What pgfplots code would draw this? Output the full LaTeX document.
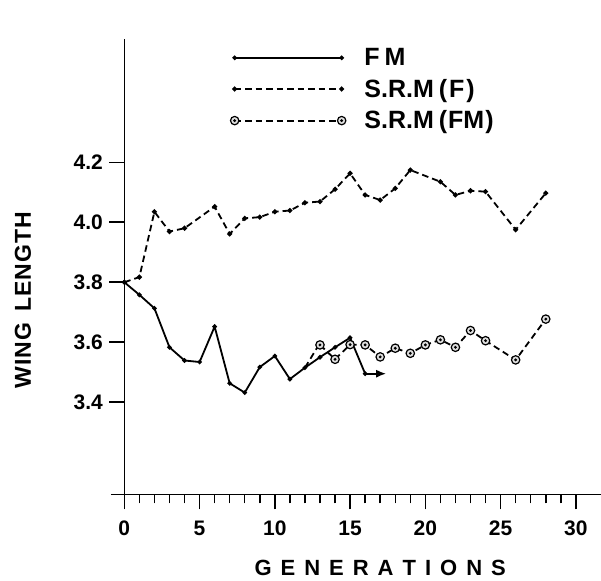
\documentclass[border=0pt]{standalone}
\usepackage{fontspec}
\setmainfont{Liberation Sans}
\usepackage{pgfplots}
\pgfplotsset{compat=1.18}
\usetikzlibrary{arrows.meta}
\pgfdeclareplotmark{circdot}{%
  \pgfpathcircle{\pgfpointorigin}{\pgfplotmarksize}\pgfusepathqfillstroke
  \begin{pgfscope}\pgfsetfillcolor{black}%
  \pgfpathcircle{\pgfpointorigin}{0.38\pgfplotmarksize}\pgfusepathqfill\end{pgfscope}}
\begin{document}
\begin{tikzpicture}
\begin{axis}[
  scale only axis, width=476.7pt, height=455pt,
  xmin=0, xmax=31.67, ymin=3.093, ymax=4.61,
  axis x line=bottom, axis y line=left,
  axis line style={line width=1.5pt, -},
  clip=false,
  xtick={0,5,...,30}, minor x tick num=4,
  ytick={3.4,3.6,3.8,4.0,4.2}, yticklabels={3.4,3.6,3.8,4.0,4.2},
  tick align=outside,
  major tick length=15pt, minor tick length=9pt,
  every tick/.style={line width=1.5pt, black},
  /pgf/number format/assume math mode=true,
  xticklabel style={font=\fontsize{21}{21}\selectfont\bfseries, yshift=-8pt},
  yticklabel style={font=\fontsize{21}{21}\selectfont\bfseries, xshift=-3pt},
  legend style={at={(axis cs:7.04,4.585)}, anchor=north west, draw=none, fill=none,
    inner sep=0pt, font=\fontsize{25}{27}\selectfont\bfseries,
    nodes={inner sep=1.5pt}, row sep=9pt,
    /tikz/every odd column/.append style={column sep=17pt}},
  legend cell align=left,
  legend image code/.code={\draw[#1, mark repeat=1] plot coordinates {(0pt,0pt) (107pt,0pt)};},
]
\addplot[line width=1.8pt, mark=*, mark size=1.3pt] coordinates {
 (0,3.800) (1,3.758) (2,3.713) (3,3.583) (4,3.539) (5,3.534) (6,3.652)
 (7,3.463) (8,3.432) (9,3.517) (10,3.554) (11,3.477) (12,3.515) (13,3.550)
 (14,3.583) (15,3.615) (16,3.495)};
\addlegendentry{F\hspace{5pt}M}
\addplot[line width=1.8pt, dash pattern=on 6.5pt off 4pt, mark=*, mark size=1.5pt,
  mark options={solid}] coordinates {
 (0,3.800) (1,3.817) (2,4.035) (3,3.969) (4,3.980) (6,4.052) (7,3.961)
 (8,4.013) (9,4.017) (10,4.035) (11,4.039) (12,4.065) (13,4.069) (14,4.110)
 (15,4.163) (16,4.091) (17,4.074) (18,4.113) (19,4.174) (21,4.135) (22,4.091)
 (23,4.105) (24,4.102) (26,3.975) (28,4.097)};
\addlegendentry{S.R.M\hspace{5pt}(\hspace{2pt}F\hspace{2pt})}
\addplot[line width=1.8pt, dash pattern=on 6.5pt off 4pt, mark=circdot, mark size=4.2pt,
  mark options={solid, fill=gray!25, draw=black, line width=1.2pt}] coordinates {
 (13,3.591) (14,3.543) (15,3.592) (16,3.591) (17,3.551) (18,3.580) (19,3.563)
 (20,3.591) (21,3.608) (22,3.583) (23,3.639) (24,3.605) (26,3.541) (28,3.677)};
\addlegendentry{S.R.M\hspace{5pt}(\hspace{1pt}FM\hspace{1pt})}
\addplot[line width=1.8pt, dash pattern=on 6.5pt off 4pt, forget plot] coordinates {
 (12,3.515) (12.85,3.585)};
\addplot[line width=1.8pt, -{Latex[length=10pt,width=8pt]}, forget plot] coordinates {
 (16,3.495) (17.4,3.495)};
\draw[line width=1.5pt] (axis cs:-0.9,3.093) -- (axis cs:0,3.093);
\node[font=\fontsize{22}{24}\selectfont\bfseries] at (axis cs:17.0,2.848)
  {G\hspace{9pt}E\hspace{9pt}N\hspace{9pt}E\hspace{9pt}R\hspace{9pt}A\hspace{9pt}T\hspace{9pt}I\hspace{9pt}O\hspace{9pt}N\hspace{9pt}S};
\node[font=\fontsize{23}{25}\selectfont\bfseries, rotate=90] at (axis cs:-6.73,3.74)
  {W\hspace{1pt}I\hspace{1pt}N\hspace{1pt}G\hspace{11pt}L\hspace{1pt}E\hspace{1pt}N\hspace{1pt}G\hspace{1pt}T\hspace{1pt}H};
\coordinate (BL) at (axis cs:-8.26,2.804);
\coordinate (TR) at (axis cs:31.67,4.741);
\end{axis}
\pgfresetboundingbox
\path[use as bounding box] (BL) rectangle (TR);
\end{tikzpicture}
\end{document}
